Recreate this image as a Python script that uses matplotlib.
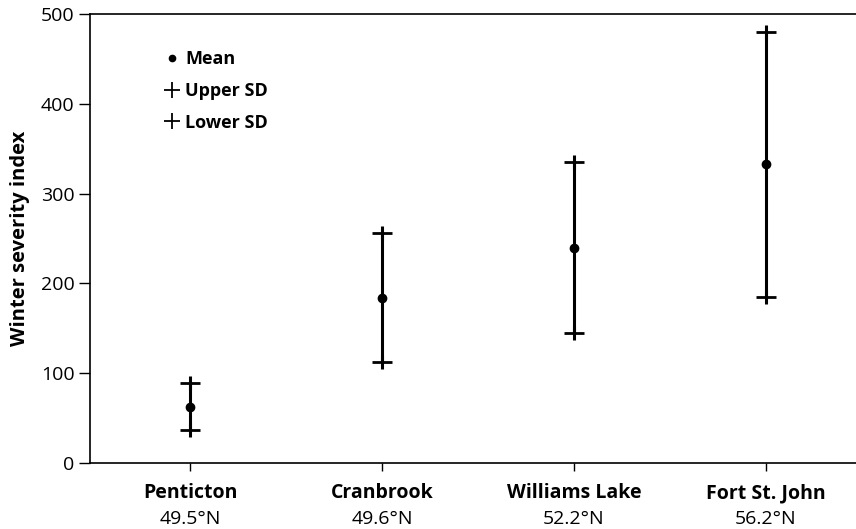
import matplotlib.pyplot as plt
from matplotlib.lines import Line2D
import numpy as np

plt.rcParams['font.family'] = ['Open Sans', 'DejaVu Sans']

stations = ['Penticton', 'Cranbrook', 'Williams Lake', 'Fort St. John']
latitudes = ['49.5°N', '49.6°N', '52.2°N', '56.2°N']
mean_idx = [62, 184, 239, 333]
upper_sd = [89, 256, 335, 480]
lower_sd = [37, 112, 145, 185]

fig = plt.figure(figsize=(8.56, 5.29), dpi=100)
ax = fig.add_axes([90 / 856, 1 - 463 / 529, 766 / 856, (463 - 14) / 529])

x = np.arange(len(stations))

# SD range: vertical bar, cross caps at both ends, dot at mean
ax.vlines(x, lower_sd, upper_sd, color='black', linewidth=2.2, zorder=2)
for ends in (upper_sd, lower_sd):
    ax.plot(x, ends, linestyle='none', marker='_', markersize=14, mew=2, color='black', zorder=3)
    ax.plot(x, ends, linestyle='none', marker='|', markersize=10, mew=2.2, color='black', zorder=3)
ax.plot(x, mean_idx, linestyle='none', marker='o', markersize=6, color='black', zorder=4)

ax.set_xlim(-0.521, 3.469)
ax.set_ylim(0, 500)
ax.set_yticks([0, 100, 200, 300, 400, 500])
ax.set_xticks(x)
ax.set_xticklabels([''] * len(x))
for xi, name, lat in zip(x, stations, latitudes):
    ax.text(xi, -0.067, name, transform=ax.get_xaxis_transform(), ha='center', va='center',
            fontsize=14, fontweight='bold')
    ax.text(xi, -0.125, lat, transform=ax.get_xaxis_transform(), ha='center', va='center',
            fontsize=14)

ax.tick_params(axis='y', direction='out', length=8, width=1, labelsize=14, pad=3)
ax.tick_params(axis='x', direction='out', length=6, width=1)
ax.spines['right'].set_visible(False)
for s in ['left', 'top', 'bottom']:
    ax.spines[s].set_linewidth(1.2)

ax.set_ylabel('Winter severity index', fontsize=14.5, fontweight='bold', labelpad=8)

handles = [
    Line2D([], [], linestyle='none', marker='o', markersize=4.5, color='black'),
    Line2D([], [], linestyle='none', marker='+', markersize=12, mew=1.3, color='black'),
    Line2D([], [], linestyle='none', marker='+', markersize=12, mew=1.3, color='black'),
]
ax.legend(handles, ['Mean', 'Upper SD', 'Lower SD'], loc='upper left',
          bbox_to_anchor=(0.076, 0.955), frameon=False, handlelength=0.8, handletextpad=0.35,
          labelspacing=0.75, prop={'weight': 'bold', 'size': 13})

fig.savefig('out.png', dpi=100)
